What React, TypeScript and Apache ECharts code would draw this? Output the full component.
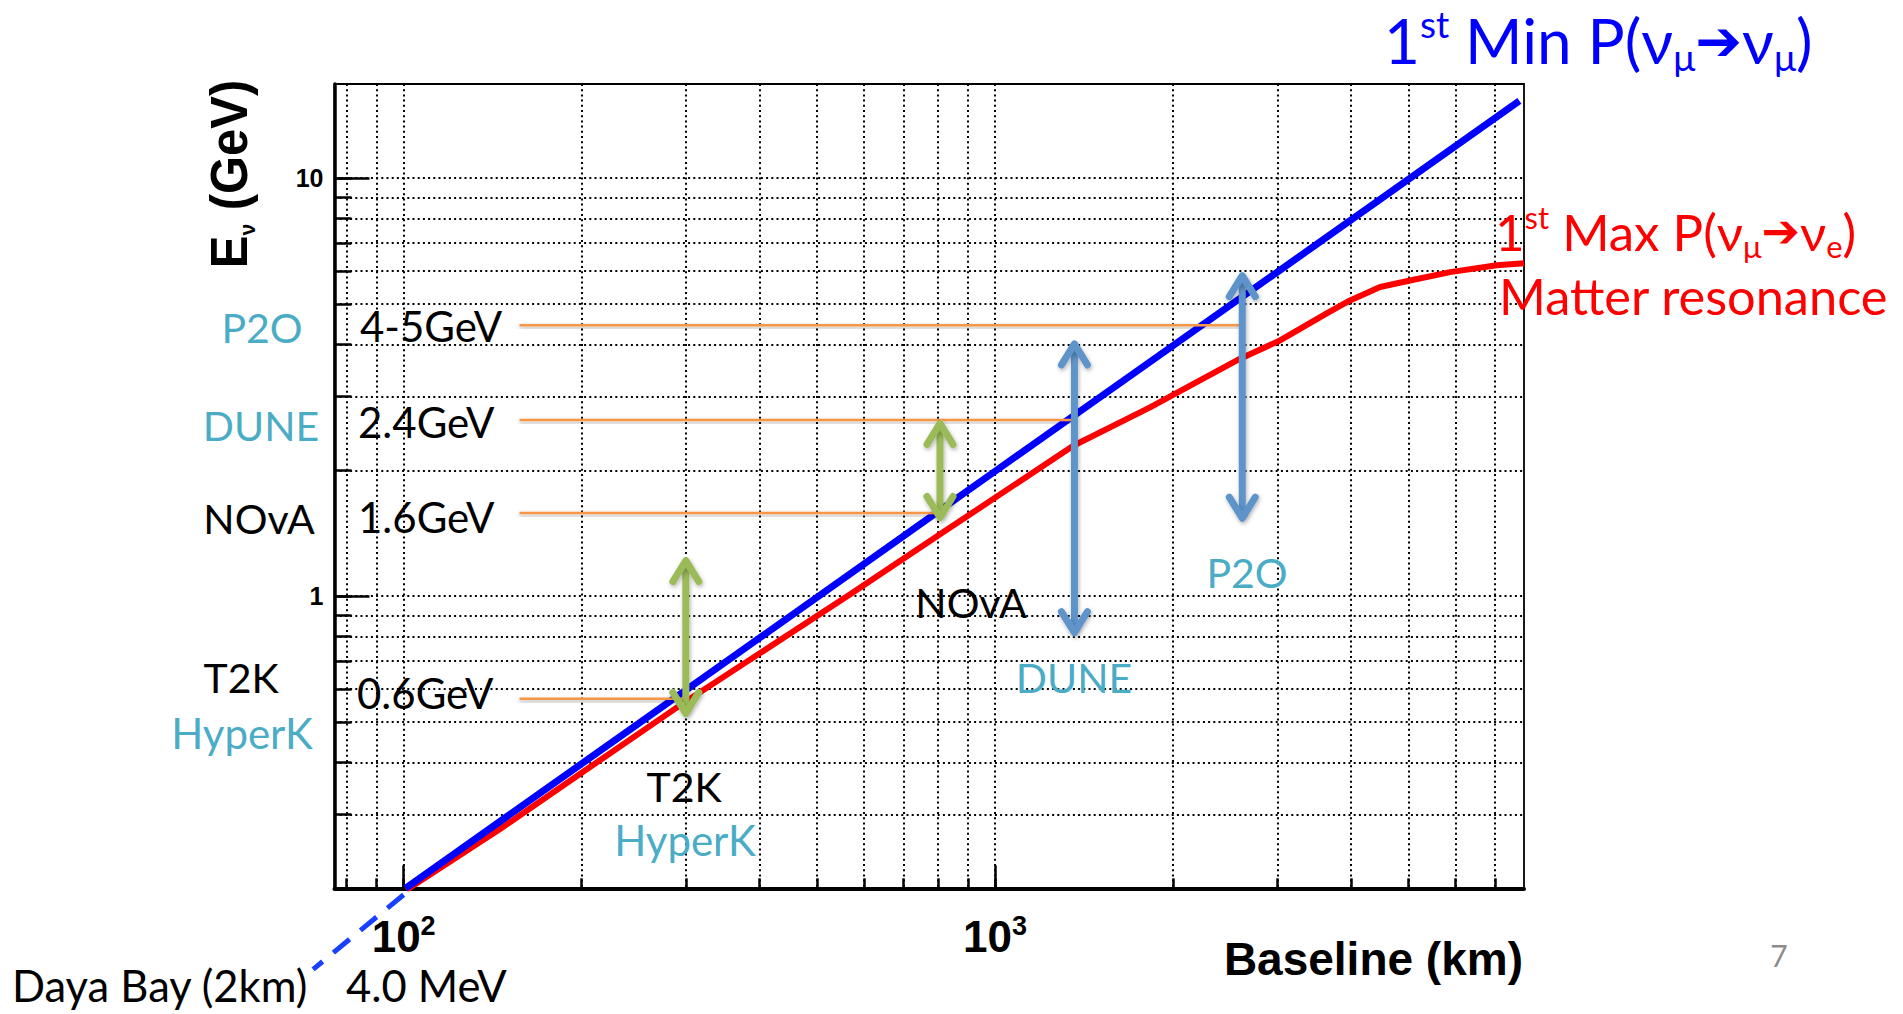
import React, { useEffect, useRef } from 'react';
import * as echarts from 'echarts';

// ---------------- data ----------------
const xRange = [76.4, 7840]; // Baseline (km)
const yRange = [0.2, 16.8]; // E_nu (GeV)
const xMinorTicks = [80, 90, 100, 200, 300, 400, 500, 600, 700, 800, 900, 1000, 2000, 3000, 4000, 5000, 6000, 7000];
const xMajorTicks = [100, 1000];
const yMinorTicks = [0.2, 0.3, 0.4, 0.5, 0.6, 0.7, 0.8, 0.9, 1, 2, 3, 4, 5, 6, 7, 8, 9, 10];
const yMajorTicks = [1, 10];

// 1st Min P(numu -> numu)
const minBaseline = [100.7, 300, 1000, 3000, 7700];
const minEnergy = [0.2, 0.596, 1.99, 5.96, 15.3];

// 1st Max P(numu -> nue), matter resonance
const maxBaseline = [101, 146, 200, 300, 569, 807, 1356, 1828, 2596, 3033, 3637, 3982, 4477, 5030, 5880, 7051, 7841];
const maxEnergy = [0.198, 0.278, 0.378, 0.56, 1.01, 1.406, 2.29, 2.83, 3.7, 4.09, 4.75, 5.1, 5.49, 5.69, 5.96, 6.19, 6.26];

// Daya Bay extension (dashed)
const dayaBaseline = [100, 70.3];
const dayaEnergy = [0.193, 0.128];

// reference energies (orange lines)
const refEnergy = [4.45, 2.64, 1.58, 0.568];
const refStart = [157, 157, 157, 157];
const refEnd = [2612, 1356, 807, 299];

// arrows
const greenArrowBaseline = [300, 807];
const greenArrowTop = [1.24, 2.64];
const greenArrowBottom = [0.514, 1.513];
const blueArrowBaseline = [1362, 2618];
const blueArrowTop = [4.09, 5.96];
const blueArrowBottom = [0.802, 1.507];

// ---------------- styles ----------------
const TEAL = '#4BACC6';
const CAL = 'Lato';
const HELV = 'Liberation Sans';

const pairs = (xs: number[], ys: number[]) => xs.map((x, i) => [x, ys[i]]);

const shadow = { shadowBlur: 4, shadowColor: 'rgba(0,0,0,0.3)', shadowOffsetX: 1, shadowOffsetY: 2 };

function arrowSeries(name: string, Ls: number[], tops: number[], bottoms: number[], color: string) {
  return {
    type: 'custom',
    name,
    xAxisIndex: 0,
    yAxisIndex: 0,
    clip: false,
    z: 6,
    silent: true,
    data: Ls.map((L, i) => [L, tops[i], bottoms[i]]),
    encode: { x: 0, y: [1, 2] },
    renderItem: (params: any, api: any) => {
      const t = api.coord([api.value(0), api.value(1)]);
      const b = api.coord([api.value(0), api.value(2)]);
      const lw = 7;
      const hw = 13;
      const hh = 21;
      const tip = lw / 2;
      const mk = () => ({
        stroke: color,
        fill: 'none',
        lineWidth: lw,
        lineCap: 'round',
        lineJoin: 'round',
        ...shadow,
      });
      const tx = t[0], ty = t[1] + tip, bx = b[0], by = b[1] - tip;
      return {
        type: 'group',
        children: [
          {
            type: 'rect',
            shape: { x: tx - lw / 2, y: ty + 2, width: lw, height: by - ty - 4 },
            style: { fill: color, ...shadow },
          },
          { type: 'polyline', shape: { points: [[tx - hw, ty + hh], [tx, ty], [tx + hw, ty + hh]] }, style: mk() },
          { type: 'polyline', shape: { points: [[bx - hw, by - hh], [bx, by], [bx + hw, by - hh]] }, style: mk() },
        ],
      };
    },
  };
}

function txt(text: string, x: number, y: number, size: number, color: string, align = 'left', family = CAL, extra: any = {}) {
  return {
    type: 'text',
    x,
    y,
    z: 100,
    silent: true,
    style: {
      text,
      fontSize: size,
      fontFamily: family,
      fill: color,
      align,
      textAlign: align,
      verticalAlign: 'middle',
      textVerticalAlign: 'middle',
      ...extra,
    },
  };
}

function richTitle(x: number, y: number, text: string, color: string, main: number, small: number, lh: number) {
  return {
    type: 'text',
    x,
    y,
    z: 100,
    silent: true,
    style: {
      text,
      align: 'left',
      textAlign: 'left',
      verticalAlign: 'middle',
      textVerticalAlign: 'middle',
      fill: color,
      rich: {
        m: { fontSize: main, fontFamily: CAL, fill: color, lineHeight: lh },
        sup: { fontSize: small, fontFamily: CAL, fill: color, verticalAlign: 'top', lineHeight: small },
        sub: { fontSize: small, fontFamily: CAL, fill: color, verticalAlign: 'bottom', lineHeight: small * 0.75 },
        arr: { fontSize: main * 0.9, fontFamily: 'DejaVu Sans', fill: color, lineHeight: lh },
      },
    },
  };
}

const gridLine = { show: true, lineStyle: { color: '#000', width: 2, type: [2, 3.2] } };

const option: any = {
  animation: false,
  backgroundColor: '#ffffff',
  grid: {
    left: 334.5,
    top: 84,
    right: 1903 - 1524,
    bottom: 1014 - 888.3,
    show: true,
    borderColor: '#000',
    borderWidth: 1.8,
    backgroundColor: 'transparent',
  },
  xAxis: [
    {
      type: 'log',
      logBase: 10,
      min: xRange[0],
      max: xRange[1],
      position: 'bottom',
      axisLine: { show: true, onZero: false, lineStyle: { color: '#000', width: 4 } },
      axisTick: { show: true, inside: true, length: 10, customValues: xMinorTicks, lineStyle: { color: '#000', width: 2.5 } },
      axisLabel: { show: false },
      splitLine: gridLine,
      minorTick: { show: false },
      minorSplitLine: { show: false },
    },
    {
      type: 'log',
      logBase: 10,
      min: xRange[0],
      max: xRange[1],
      position: 'bottom',
      axisLine: { show: false, onZero: false },
      axisTick: { show: true, inside: true, length: 23, customValues: xMajorTicks, lineStyle: { color: '#000', width: 2.5 } },
      axisLabel: {
        show: true,
        customValues: xMajorTicks,
        margin: 24,
        formatter: (v: number) => `{b|10}{s|${Math.round(Math.log10(v))}}`,
        rich: {
          b: { fontSize: 44, fontWeight: 'bold', fontFamily: HELV, color: '#000', lineHeight: 48 },
          s: { fontSize: 27, fontWeight: 'bold', fontFamily: HELV, color: '#000', verticalAlign: 'top', lineHeight: 27 },
        },
      },
      splitLine: { show: false },
    },
  ],
  yAxis: [
    {
      type: 'log',
      logBase: 10,
      min: yRange[0],
      max: yRange[1],
      position: 'left',
      axisLine: { show: true, onZero: false, lineStyle: { color: '#000', width: 3.5 } },
      axisTick: { show: true, inside: true, length: 17, customValues: yMinorTicks, lineStyle: { color: '#000', width: 2.5 } },
      axisLabel: { show: false },
      splitLine: gridLine,
      minorTick: { show: false },
      minorSplitLine: { show: false },
    },
    {
      type: 'log',
      logBase: 10,
      min: yRange[0],
      max: yRange[1],
      position: 'left',
      axisLine: { show: false, onZero: false },
      axisTick: { show: true, inside: true, length: 35, customValues: yMajorTicks, lineStyle: { color: '#000', width: 2.5 } },
      axisLabel: {
        show: true,
        customValues: yMajorTicks,
        margin: 11,
        fontSize: 25,
        fontWeight: 'bold',
        fontFamily: HELV,
        color: '#000',
        formatter: (v: number) => String(Math.round(v)),
      },
      splitLine: { show: false },
    },
  ],
  series: [
    {
      type: 'line',
      name: '1st Max P(νμ→νe)',
      data: pairs(maxBaseline, maxEnergy),
      symbol: 'none',
      silent: true,
      z: 3,
      lineStyle: { color: '#ff0000', width: 6 },
    },
    {
      type: 'line',
      name: '1st Min P(νμ→νμ)',
      data: pairs(minBaseline, minEnergy),
      symbol: 'none',
      silent: true,
      z: 4,
      lineStyle: { color: '#0000ff', width: 7 },
    },
    {
      type: 'custom',
      name: 'Daya Bay',
      xAxisIndex: 0,
      yAxisIndex: 0,
      clip: false,
      z: 4,
      silent: true,
      data: [[dayaBaseline[0], dayaEnergy[0], dayaBaseline[1], dayaEnergy[1]]],
      encode: { x: [0, 2], y: [1, 3] },
      renderItem: (params: any, api: any) => {
        const a = api.coord([api.value(0), api.value(1)]);
        const b = api.coord([api.value(2), api.value(3)]);
        return {
          type: 'line',
          shape: { x1: a[0], y1: a[1], x2: b[0], y2: b[1] },
          style: { stroke: '#1a40ff', lineWidth: 5, lineDash: [21, 14], fill: 'none' },
        };
      },
    },
    {
      type: 'custom',
      name: 'reference energies',
      xAxisIndex: 0,
      yAxisIndex: 0,
      z: 5,
      silent: true,
      data: refEnergy.map((e, i) => [refStart[i], refEnd[i], e]),
      encode: { x: [0, 1], y: 2 },
      renderItem: (params: any, api: any) => {
        const a = api.coord([api.value(0), api.value(2)]);
        const b = api.coord([api.value(1), api.value(2)]);
        return {
          type: 'rect',
          shape: { x: a[0], y: a[1] - 1.25, width: b[0] - a[0], height: 2.5 },
          style: { fill: '#F79646', shadowBlur: 4, shadowColor: 'rgba(0,0,0,0.35)', shadowOffsetY: 2 },
        };
      },
    },
    arrowSeries('green arrows', greenArrowBaseline, greenArrowTop, greenArrowBottom, '#9BBB59'),
    arrowSeries('blue arrows', blueArrowBaseline, blueArrowTop, blueArrowBottom, '#5E94CB'),
  ],
  graphic: {
    elements: [
      // y-axis title
      {
        type: 'text',
        x: 230,
        y: 174,
        rotation: Math.PI / 2,
        scaleX: 0.96,
        z: 100,
        silent: true,
        style: {
          text: '{e|E}{n|ν}{e| (GeV)}',
          align: 'center',
          textAlign: 'center',
          verticalAlign: 'middle',
          textVerticalAlign: 'middle',
          rich: {
            e: { fontSize: 51, fontWeight: 'bold', fontFamily: HELV, fill: '#000', lineHeight: 56 },
            n: { fontSize: 22, fontWeight: 'bold', fontFamily: HELV, fill: '#000', verticalAlign: 'bottom', lineHeight: 22 },
          },
        },
      },
      txt('Baseline (km)', 1523, 959, 46, '#000', 'right', HELV, { fontWeight: 'bold' }),
      txt('7', 1779, 955, 30, '#8c8c8c', 'center'),
      // left labels
      txt('P2O', 262, 327.5, 41, TEAL, 'center'),
      txt('DUNE', 261, 425, 41, TEAL, 'center'),
      txt('NOvA', 259, 518, 41, '#000', 'center'),
      txt('T2K', 241, 677.5, 41, '#000', 'center'),
      txt('HyperK', 242, 732.5, 42, TEAL, 'center'),
      // energy labels
      txt('4-5GeV', 360, 326, 42, '#000'),
      txt('2.4GeV', 358, 421.7, 42, '#000'),
      txt('1.6GeV', 358, 516.7, 42, '#000'),
      txt('0.6GeV', 357, 692.5, 42, '#000'),
      // in-plot labels
      txt('NOvA', 971, 602.5, 41, '#000', 'center'),
      txt('DUNE', 1074, 677.5, 41, TEAL, 'center'),
      txt('P2O', 1247, 572.5, 41, TEAL, 'center'),
      txt('T2K', 684, 786, 41, '#000', 'center'),
      txt('HyperK', 685, 840, 42, TEAL, 'center'),
      // bottom labels
      txt('Daya Bay (2km)', 12, 985, 43.5, '#000'),
      txt('4.0 MeV', 346, 985, 43.5, '#000'),
      // titles
      richTitle(1384, 40, '{m|1}{sup|st}{m| Min P(ν}{sub|μ}{arr|➔}{m|ν}{sub|μ}{m|)}', '#0000ff', 62, 37, 70),
      richTitle(1495, 231, '{m|1}{sup|st}{m| Max P(ν}{sub|μ}{arr|➔}{m|ν}{sub|e}{m|)}', '#ff0000', 51, 31, 60),
      txt('Matter resonance', 1499, 295, 50.5, '#ff0000'),
    ],
  },
};

export default function App() {
  const ref = useRef<HTMLDivElement>(null);
  useEffect(() => {
    const chart = echarts.init(ref.current as HTMLDivElement, null, { renderer: 'svg' });
    chart.setOption(option);
    return () => chart.dispose();
  }, []);
  return (
    <div
      ref={ref}
      style={{ position: 'fixed', left: 0, top: 0, width: 1903, height: 1014, background: '#fff' }}
    />
  );
}
